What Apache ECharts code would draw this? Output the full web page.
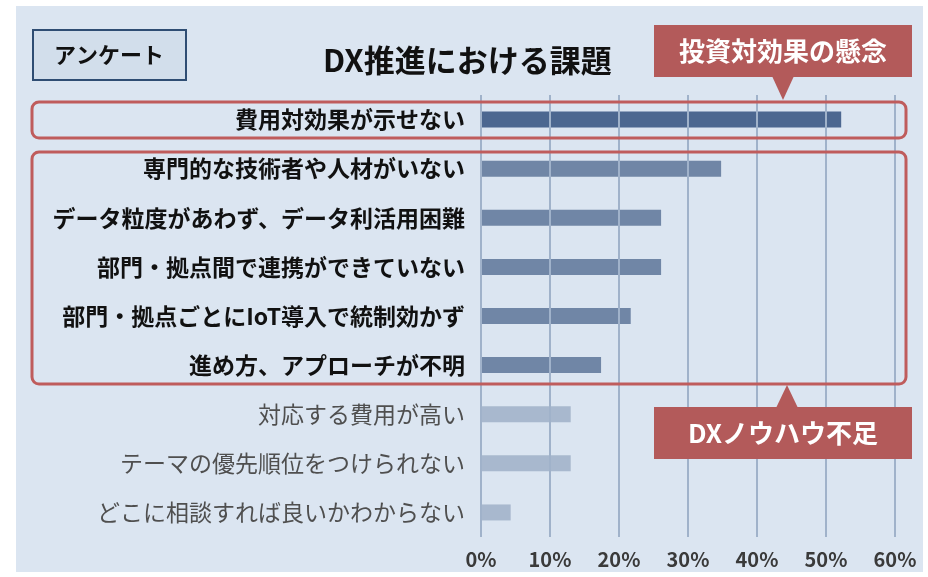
<!DOCTYPE html>
<html>
<head>
<meta charset="utf-8">
<script src="https://cdn.jsdelivr.net/npm/echarts@6/dist/echarts.min.js"></script>
<style>
  html, body { margin: 0; padding: 0; background: #ffffff; }
  #wrap { position: relative; width: 928px; height: 577px; }
  #panel { position: absolute; left: 16px; top: 6px; width: 907px; height: 566px; background: #dbe5f1; }
  #main { position: absolute; left: 0; top: 0; width: 928px; height: 577px; }
</style>
</head>
<body>
<div id="wrap">
  <div id="panel"></div>
  <div id="main"></div>
</div>
<script>
// DX推進における課題 アンケート結果（%）
const categories = [
  '費用対効果が示せない',
  '専門的な技術者や人材がいない',
  'データ粒度があわず、データ利活用困難',
  '部門・拠点間で連携ができていない',
  '部門・拠点ごとにIoT導入で統制効かず',
  '進め方、アプローチが不明',
  '対応する費用が高い',
  'テーマの優先順位をつけられない',
  'どこに相談すれば良いかわからない'
]
const values = [52.2, 34.8, 26.1, 26.1, 21.7, 17.4, 13.0, 13.0, 4.3]
// 0: 投資対効果の懸念, 1: DXノウハウ不足, 2: その他
const groups = [0, 1, 1, 1, 1, 1, 2, 2, 2]
const groupColors = ['#45608a', '#6a81a1', '#a5b5cb']

const FONT = "'Noto Sans CJK JP', 'Noto Sans', sans-serif"
const RED = '#b35a5a'
const RED_LINE = '#bf5c5c'

const chart = echarts.init(document.getElementById('main'), null, { renderer: 'canvas' })

const option = {
  backgroundColor: 'transparent',
  animation: false,
  textStyle: { fontFamily: FONT },
  title: {
    text: 'DX推進における課題',
    left: 318,
    top: 40,
    textStyle: { fontFamily: FONT, fontSize: 31, fontWeight: 'bold', color: '#111111' }
  },
  grid: {
    left: 481,
    right: 33,
    top: 95,
    height: 442
  },
  xAxis: {
    type: 'value',
    min: 0,
    max: 60,
    interval: 10,
    z: 3,
    axisLine: { show: false },
    axisTick: { show: false },
    axisLabel: {
      formatter: '{value}%',
      fontFamily: FONT,
      fontSize: 20,
      fontWeight: 'bold',
      color: '#3a3a3a',
      margin: 12
    },
    splitLine: { lineStyle: { color: '#a0b2ca', width: 2 } }
  },
  yAxis: {
    type: 'category',
    inverse: true,
    data: categories,
    axisLine: { show: false },
    axisTick: { show: false },
    axisLabel: {
      margin: 16,
      formatter: function (value, index) {
        return groups[index] < 2 ? '{b|' + value + '}' : '{g|' + value + '}'
      },
      rich: {
        b: { fontFamily: FONT, fontSize: 23, fontWeight: 'bold', color: '#111111' },
        g: { fontFamily: FONT, fontSize: 23, fontWeight: 'normal', color: '#4f4f4f' }
      }
    }
  },
  series: [{
    type: 'bar',
    barWidth: 16,
    data: values.map((v, i) => ({
      value: v,
      itemStyle: { color: groupColors[groups[i]], opacity: 0.95 }
    }))
  }],
  graphic: [
    // アンケート ラベル
    {
      type: 'rect',
      shape: { x: 33, y: 30, width: 153, height: 50 },
      style: { fill: '#d2deeb', stroke: '#2f4d73', lineWidth: 2 }
    },
    {
      type: 'text',
      x: 109, y: 55,
      style: {
        text: 'アンケート', fontFamily: FONT, fontSize: 22, fontWeight: 'bold', fill: '#111111',
        align: 'center', verticalAlign: 'middle'
      }
    },
    // 囲み枠
    {
      type: 'rect', z: 10,
      shape: { x: 32, y: 102, width: 874, height: 36, r: 7 },
      style: { fill: 'none', stroke: RED_LINE, lineWidth: 3 }
    },
    {
      type: 'rect', z: 10,
      shape: { x: 32, y: 152, width: 874, height: 232, r: 7 },
      style: { fill: 'none', stroke: RED_LINE, lineWidth: 3 }
    },
    // 投資対効果の懸念
    {
      type: 'rect', z: 11,
      shape: { x: 654, y: 25, width: 258, height: 52 },
      style: { fill: RED }
    },
    {
      type: 'polygon', z: 11,
      shape: { points: [[772, 76], [794, 76], [783, 100]] },
      style: { fill: RED }
    },
    {
      type: 'text', z: 12,
      x: 783, y: 51,
      style: {
        text: '投資対効果の懸念', fontFamily: FONT, fontSize: 26, fontWeight: 'bold', fill: '#ffffff',
        align: 'center', verticalAlign: 'middle'
      }
    },
    // DXノウハウ不足
    {
      type: 'rect', z: 11,
      shape: { x: 654, y: 407, width: 258, height: 52 },
      style: { fill: RED }
    },
    {
      type: 'polygon', z: 11,
      shape: { points: [[776, 408], [798, 408], [787, 385]] },
      style: { fill: RED }
    },
    {
      type: 'text', z: 12,
      x: 783, y: 433,
      style: {
        text: 'DXノウハウ不足', fontFamily: FONT, fontSize: 26, fontWeight: 'bold', fill: '#ffffff',
        align: 'center', verticalAlign: 'middle'
      }
    }
  ]
}

chart.setOption(option)
</script>
</body>
</html>
